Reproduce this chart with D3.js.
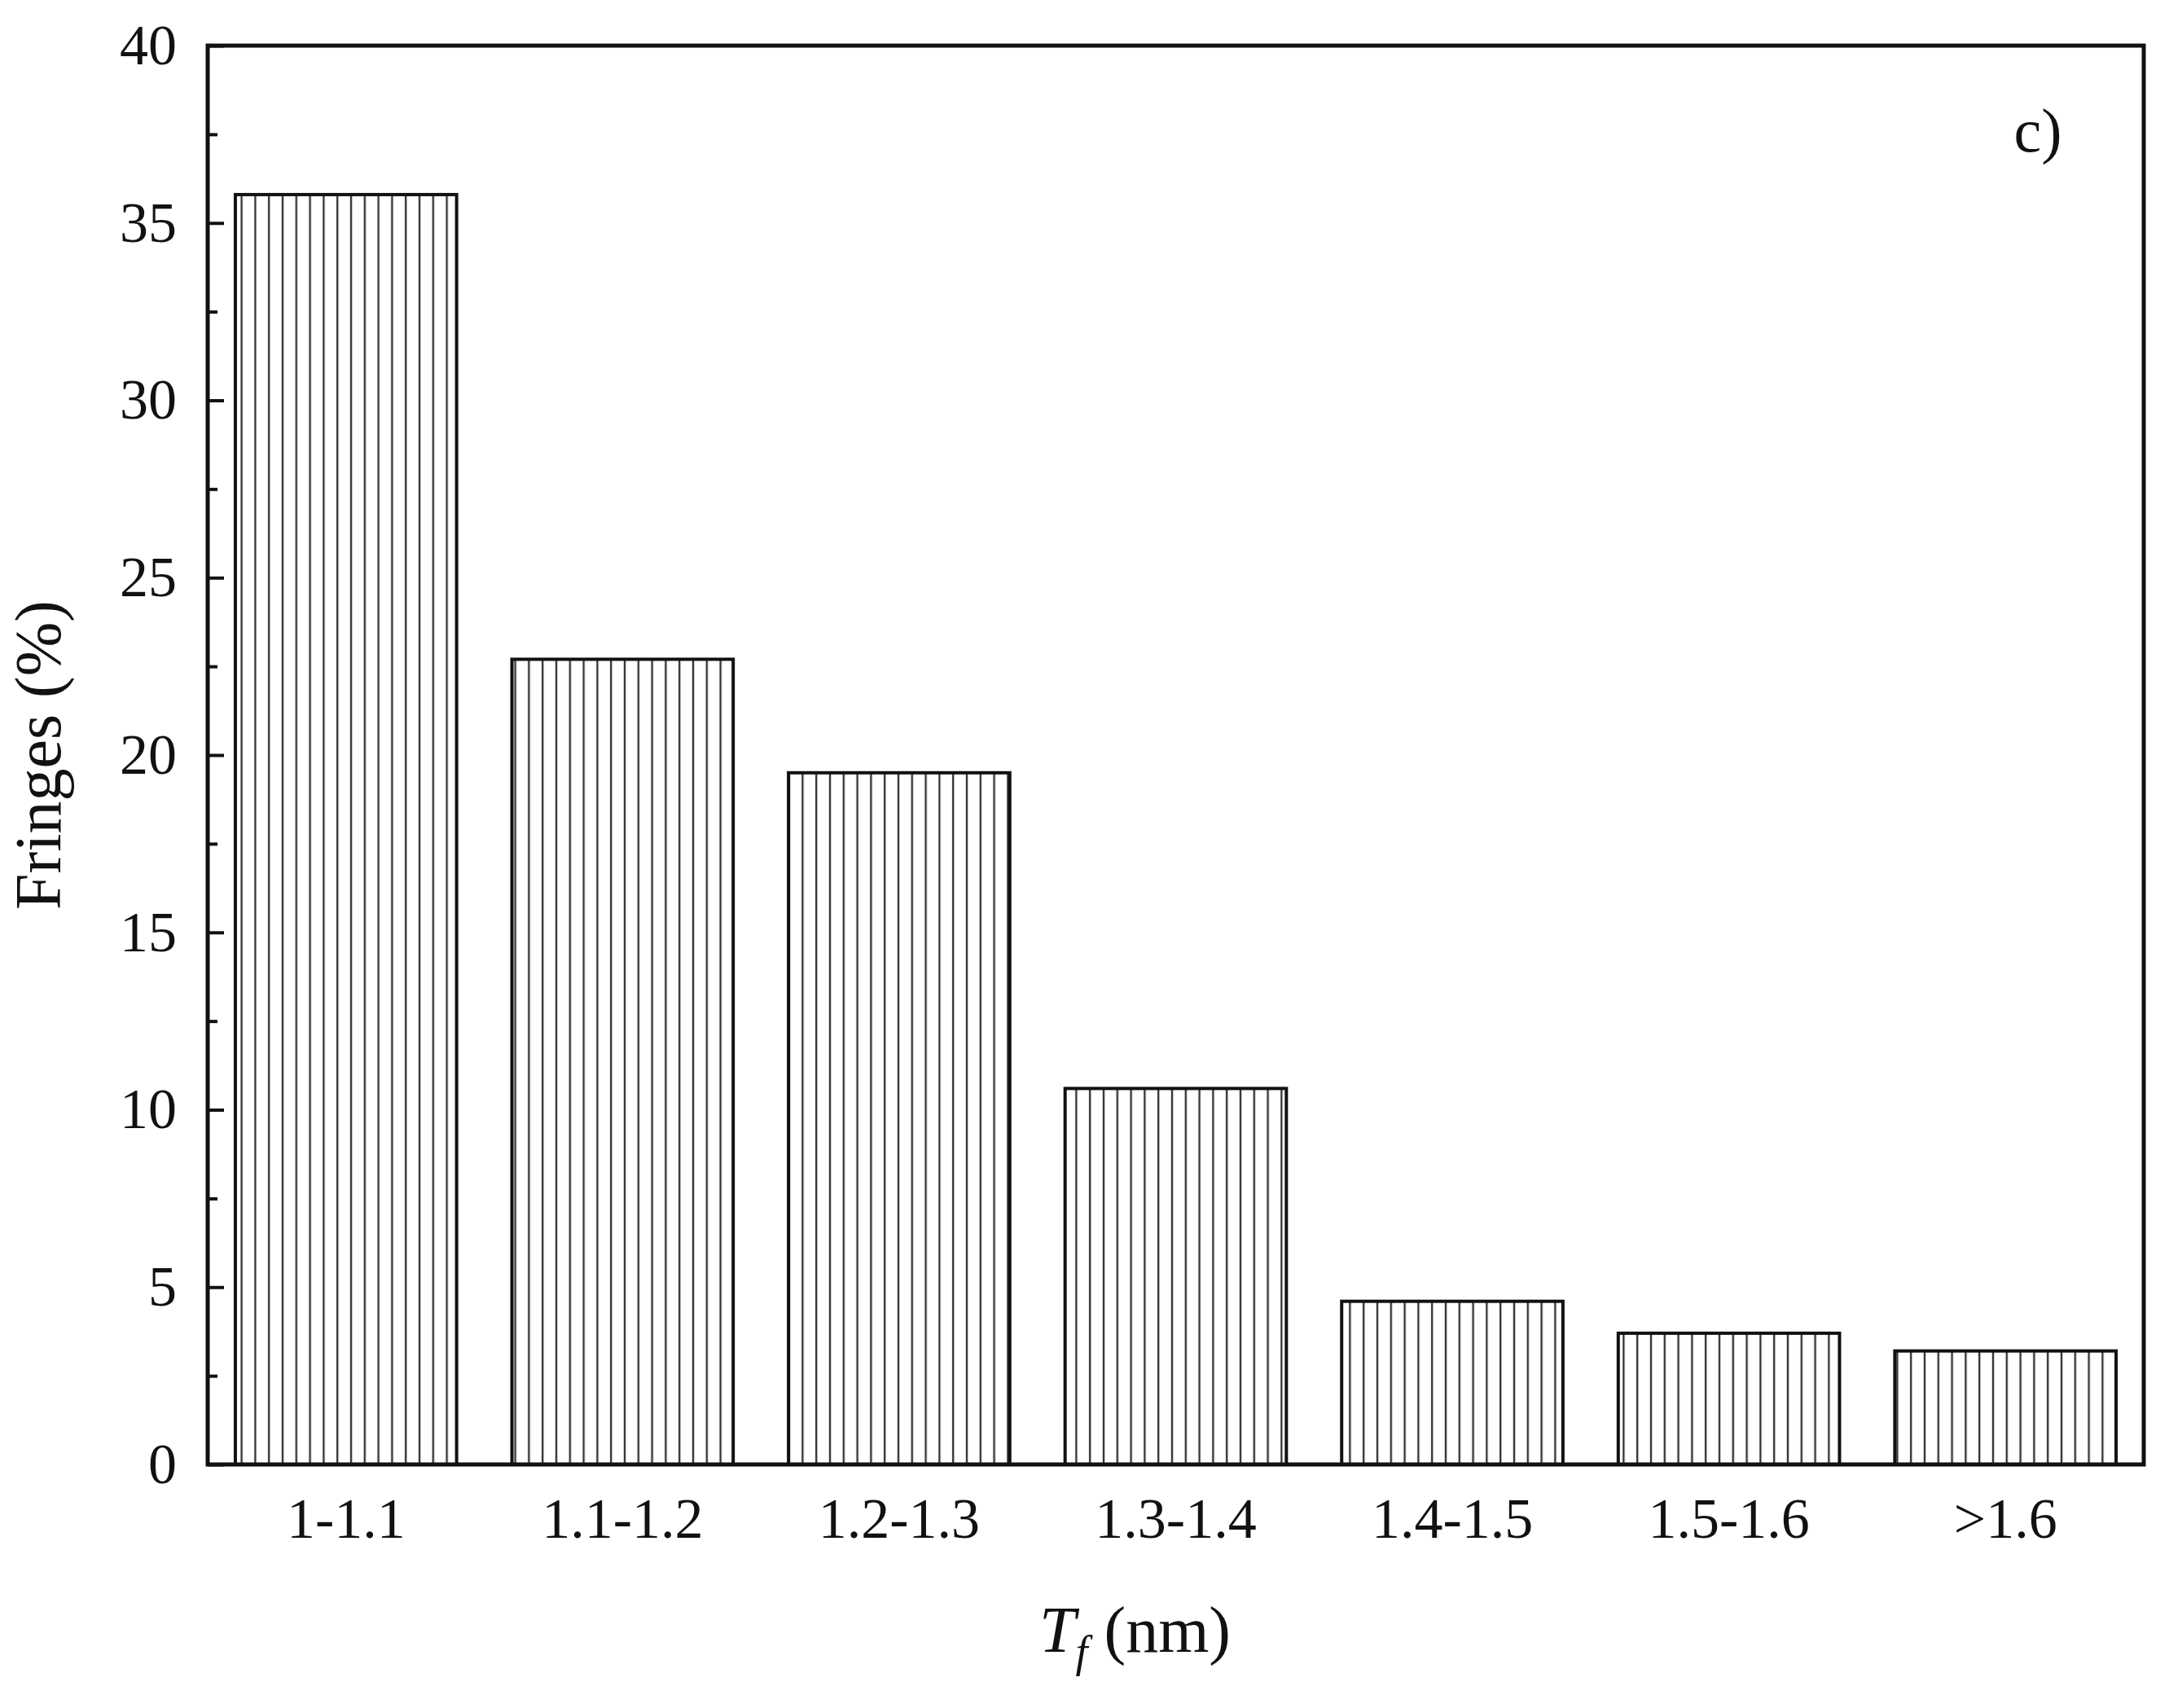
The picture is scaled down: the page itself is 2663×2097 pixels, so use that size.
<!DOCTYPE html>
<html>
<head>
<meta charset="utf-8">
<script src="https://cdn.jsdelivr.net/npm/d3@7"></script>
<style>
  body { margin: 0; background: #fff; }
  text { font-family: 'Liberation Serif', 'DejaVu Serif', serif; fill: #111; }
</style>
</head>
<body>
<svg id="chart"></svg>
<script>
let categories = ['1-1.1', '1.1-1.2', '1.2-1.3', '1.3-1.4', '1.4-1.5', '1.5-1.6', '>1.6'];
let fringes = [35.8, 22.7, 19.5, 10.6, 4.6, 3.7, 3.2];
let yTicks = [0, 5, 10, 15, 20, 25, 30, 35, 40];
let yMinorTicks = [2.5, 7.5, 12.5, 17.5, 22.5, 27.5, 32.5, 37.5];

function getConfig() {
    let width = 2663;
    let height = 2097;
    let margin = { top: 56, bottom: 299, left: 255, right: 31 };
    let bodyWidth = width - margin.left - margin.right;
    let bodyHeight = height - margin.top - margin.bottom;
    let container = d3.select('#chart')
        .attr('width', width)
        .attr('height', height);
    return { width, height, margin, bodyWidth, bodyHeight, container };
}

function getScales(config) {
    let { bodyWidth, bodyHeight } = config;
    let xScale = d3.scaleBand()
        .domain(categories)
        .range([0, bodyWidth])
        .paddingInner(0.2)
        .paddingOuter(0.1);
    let yScale = d3.scaleLinear()
        .domain([0, 40])
        .range([bodyHeight, 0]);
    return { xScale, yScale };
}

function drawBars(config, scales) {
    let { container, margin } = config;
    let { xScale, yScale } = scales;

    // vertical hatch pattern
    let pattern = container.append('defs').append('pattern')
        .attr('id', 'hatch')
        .attr('patternUnits', 'userSpaceOnUse')
        .attr('width', 16.8)
        .attr('height', 10);
    pattern.append('line')
        .attr('x1', 8).attr('x2', 8)
        .attr('y1', 0).attr('y2', 10)
        .attr('stroke', '#333')
        .attr('stroke-width', 2.4);

    let body = container.append('g')
        .attr('transform', `translate(${margin.left},${margin.top})`);

    body.selectAll('rect.bar').data(fringes)
        .enter().append('rect')
        .attr('class', 'bar')
        .attr('x', (d, i) => xScale(categories[i]))
        .attr('y', d => yScale(d))
        .attr('width', xScale.bandwidth())
        .attr('height', d => yScale(0) - yScale(d))
        .attr('fill', 'url(#hatch)')
        .attr('stroke', '#111')
        .attr('stroke-width', 4);
}

function drawAxes(config, scales) {
    let { container, margin, bodyWidth, bodyHeight } = config;
    let { xScale, yScale } = scales;
    let g = container.append('g')
        .attr('transform', `translate(${margin.left},${margin.top})`);

    let axisY = d3.axisLeft(yScale).tickValues(yTicks).tickSize(-20).tickPadding(38);
    let gy = g.append('g').call(axisY);
    gy.select('.domain').remove();
    gy.selectAll('line').attr('stroke', '#111').attr('stroke-width', 4);
    gy.selectAll('text').style('font-size', '70px')
        .style('font-family', "'Liberation Serif', serif");

    let axisYMinor = d3.axisLeft(yScale).tickValues(yMinorTicks).tickSize(-12).tickFormat('');
    let gm = g.append('g').call(axisYMinor);
    gm.select('.domain').remove();
    gm.selectAll('line').attr('stroke', '#111').attr('stroke-width', 4);

    let axisX = d3.axisBottom(xScale).tickSize(0).tickPadding(40);
    let gx = g.append('g').attr('transform', `translate(0,${bodyHeight})`).call(axisX);
    gx.select('.domain').remove();
    gx.selectAll('text').style('font-size', '70px')
        .style('font-family', "'Liberation Serif', serif");

    // frame
    g.append('rect')
        .attr('width', bodyWidth)
        .attr('height', bodyHeight)
        .attr('fill', 'none')
        .attr('stroke', '#111')
        .attr('stroke-width', 5);

    g.append('text')
        .attr('x', bodyWidth - 130)
        .attr('y', 130)
        .attr('text-anchor', 'middle')
        .style('font-size', '76px')
        .text('c)');

    let xt = container.append('text')
        .attr('x', margin.left + bodyWidth / 2 - 50)
        .attr('y', 2028)
        .attr('text-anchor', 'middle')
        .style('font-size', '80px');
    xt.append('tspan').style('font-style', 'italic').text('T');
    xt.append('tspan').style('font-style', 'italic').style('font-size', '54px').attr('dy', 18).text('f');
    xt.append('tspan').attr('dy', -18).text(' (nm)');

    container.append('text')
        .attr('transform', `translate(74,${margin.top + bodyHeight / 2}) rotate(-90)`)
        .attr('text-anchor', 'middle')
        .style('font-size', '80px')
        .text('Fringes (%)');
}

let config = getConfig();
let scales = getScales(config);
drawBars(config, scales);
drawAxes(config, scales);
</script>
</body>
</html>
